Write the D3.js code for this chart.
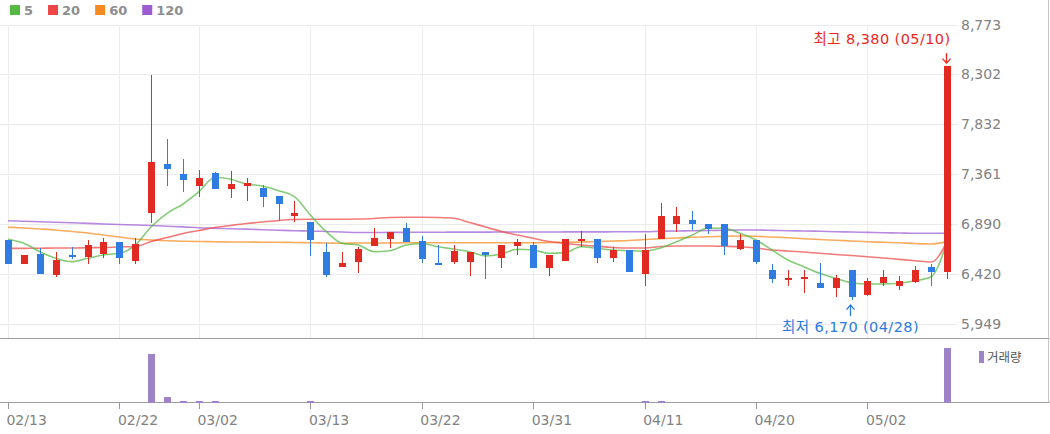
<!DOCTYPE html>
<html><head><meta charset="utf-8">
<script src="https://cdn.jsdelivr.net/npm/d3@7"></script>
<style>body{margin:0;background:#fff;} svg{display:block;}</style>
</head><body><svg id="c" width="1050" height="434"></svg>
<script>
const dates = ["02/13","02/14","02/15","02/16","02/17","02/20","02/21","02/22","02/23","02/24",
"02/27","02/28","03/02","03/03","03/06","03/07","03/08","03/09","03/10","03/13",
"03/14","03/15","03/16","03/17","03/20","03/21","03/22","03/23","03/24","03/27",
"03/28","03/29","03/30","03/31","04/03","04/04","04/05","04/06","04/07","04/10",
"04/11","04/12","04/13","04/14","04/17","04/18","04/19","04/20","04/21","04/24",
"04/25","04/26","04/27","04/28","05/02","05/03","05/04","05/08","05/09","05/10"];

const openP  = [6740,6510,6610,6410,6600,6580,6610,6720,6540,6990,7460,7360,7250,7370,7220,7250,7230,7150,6960,6910,
6620,6480,6530,6680,6750,6850,6730,6520,6530,6530,6620,6570,6680,6690,6470,6540,6740,6750,6570,6640,
6420,6750,6890,6930,6890,6890,6650,6740,6450,6370,6380,6330,6280,6450,6220,6330,6300,6340,6480,6440];
const highP  = [6740,6600,6660,6620,6670,6740,6760,6720,6760,8300,7690,7500,7400,7380,7390,7320,7260,7150,7110,6910,
6710,6620,6670,6850,6810,6900,6780,6690,6690,6620,6620,6690,6750,6720,6600,6750,6820,6750,6670,6640,
6790,7090,7050,7010,6890,6890,6790,6740,6510,6450,6450,6520,6410,6450,6380,6450,6400,6490,6510,8380];
const lowP   = [6510,6510,6420,6390,6560,6510,6570,6510,6510,6900,7250,7190,7140,7220,7130,7110,7050,6920,6910,6590,
6390,6480,6430,6680,6660,6720,6520,6500,6510,6400,6370,6470,6600,6470,6400,6540,6670,6520,6530,6440,
6300,6750,6810,6830,6790,6600,6640,6510,6330,6300,6240,6280,6200,6170,6210,6300,6270,6330,6300,6370];
const closeP = [6510,6600,6420,6550,6580,6690,6720,6570,6700,7470,7410,7300,7320,7220,7270,7280,7140,7080,6990,6740,
6410,6520,6650,6760,6810,6720,6560,6500,6630,6620,6600,6690,6720,6470,6600,6750,6750,6570,6640,6440,
6640,6960,6960,6890,6840,6680,6740,6530,6370,6380,6390,6280,6380,6200,6350,6390,6350,6450,6440,8380];
const volume = [32000,28000,35000,30000,26000,31000,29000,34000,41000,3420000,355000,140000,130000,130000,45000,38000,30000,27000,25000,120000,
36000,28000,24000,30000,26000,33000,29000,27000,25000,22000,24000,26000,28000,30000,23000,25000,27000,22000,21000,26000,
120000,130000,48000,35000,28000,30000,26000,27000,33000,24000,22000,25000,28000,40000,30000,22000,20000,26000,35000,3850000];

const ma5   = [6744,6706,6627,6565,6533,6565,6596,6612,6690,6863,6990,7078,7194,7330,7311,7266,7248,7203,7147,6974,
6816,6706,6690,6627,6636,6690,6705,6674,6652,6627,6587,6605,6650,6643,6612,6618,6674,6659,6643,6636,
6633,6662,6721,6785,6851,6848,6801,6738,6643,6549,6486,6423,6376,6334,6322,6322,6329,6353,6391,6722];
const ma20  = [6659,6659,6660,6662,6662,6665,6667,6672,6676,6724,6761,6799,6827,6856,6875,6893,6908,6922,6931,6933,
6933,6933,6936,6941,6950,6952,6952,6950,6943,6903,6860,6818,6785,6754,6723,6705,6690,6678,6667,6662,
6662,6676,6681,6681,6681,6678,6674,6662,6643,6634,6624,6612,6601,6591,6580,6568,6555,6542,6530,6722];
const ma60  = [6858,6851,6842,6832,6818,6804,6785,6766,6747,6738,6731,6726,6723,6721,6719,6719,6717,6716,6714,6712,
6709,6707,6709,6710,6710,6711,6711,6711,6712,6712,6712,6712,6712,6712,6714,6716,6719,6723,6728,6733,
6742,6750,6756,6763,6769,6773,6775,6773,6766,6759,6750,6742,6735,6728,6721,6716,6711,6704,6700,6722];
const ma120 = [6920,6915,6910,6905,6900,6895,6889,6884,6879,6874,6868,6862,6854,6849,6844,6840,6835,6830,6825,6823,
6818,6813,6808,6808,6810,6810,6811,6811,6812,6812,6812,6813,6813,6813,6813,6814,6814,6814,6815,6815,
6816,6820,6823,6825,6827,6830,6832,6832,6829,6825,6823,6820,6816,6813,6810,6806,6804,6801,6801,6804];

const maNames = ["5","20","60","120"];
const maColors = ["#55b943","#ee4646","#f68a20","#9d5bd2"];
const yTicks = [5949, 6419.67, 6890.33, 7361, 7831.67, 8302.33, 8773];
const xTickLabels = ["02/13","02/22","03/02","03/13","03/22","03/31","04/11","04/20","05/02"];
const volumeLabel = "거래량";

const svg = d3.select("#c");
const plotRight = 955;
const x = d3.scaleBand().domain(dates).range([0, plotRight]).padding(0);
const cx = d => x(d) + x.bandwidth() / 2;
const y = d3.scaleLinear().domain([5949, 8773]).range([323.5, 24.5]);
const yv = d3.scaleLinear().domain([0, d3.max(volume) * 1.17]).range([402.5, 339]);

const UP = "#e12b22", DOWN = "#2f7de2";
const FONT = "'DejaVu Sans', 'Noto Sans CJK KR', sans-serif";

svg.append("rect").attr("width", 1050).attr("height", 434).attr("fill", "#fff");

// grid
const grid = svg.append("g").attr("shape-rendering", "crispEdges");
grid.selectAll(".hg").data(yTicks).join("line")
  .attr("x1", 0).attr("x2", 958)
  .attr("y1", d => Math.round(y(d)) + 0.5).attr("y2", d => Math.round(y(d)) + 0.5)
  .attr("stroke", "#ebebeb");
grid.selectAll(".vg").data(xTickLabels).join("line")
  .attr("x1", d => Math.round(cx(d)) + 0.5).attr("x2", d => Math.round(cx(d)) + 0.5)
  .attr("y1", 24.5).attr("y2", 338)
  .attr("stroke", "#ededed");

// right axis labels
const fmt = d3.format(",.0f");
svg.append("g").selectAll("text").data(yTicks).join("text")
  .attr("x", 961).attr("y", d => y(d) + 5)
  .attr("font-family", FONT).attr("font-size", 14).attr("fill", "#828282")
  .text(d => fmt(d));

// panel borders
const b = svg.append("g").attr("shape-rendering", "crispEdges");
b.append("line").attr("x1", 0).attr("x2", 1050).attr("y1", 338.5).attr("y2", 338.5).attr("stroke", "#9c9c9c");
b.append("line").attr("x1", 0).attr("x2", 1050).attr("y1", 402.5).attr("y2", 402.5).attr("stroke", "#9c9c9c");
b.append("line").attr("x1", 1048.5).attr("x2", 1048.5).attr("y1", 0).attr("y2", 403).attr("stroke", "#c4c4c4");

// x axis ticks + labels
const xa = svg.append("g");
xa.selectAll("line").data(xTickLabels).join("line")
  .attr("shape-rendering", "crispEdges")
  .attr("x1", d => Math.round(cx(d)) + 0.5).attr("x2", d => Math.round(cx(d)) + 0.5)
  .attr("y1", 403).attr("y2", 409).attr("stroke", "#999");
xa.selectAll("text").data(xTickLabels).join("text")
  .attr("x", d => cx(d) - 1.5).attr("y", 425)
  .attr("font-family", FONT).attr("font-size", 14).attr("fill", "#828282")
  .text(d => d);

// moving averages
const maData = [ma5, ma20, ma60, ma120];
const lineGen = arr => d3.line().x((d, i) => cx(dates[i])).y(d => y(d)).curve(d3.curveMonotoneX)(arr);
const maG = svg.append("g");
[3, 2, 1, 0].forEach(k => {
  maG.append("path").attr("d", lineGen(maData[k]))
    .attr("fill", "none").attr("stroke", maColors[k])
    .attr("stroke-opacity", 0.72).attr("stroke-width", 1.6);
});

// candles
const candles = dates.map((d, i) => ({d, o: openP[i], h: highP[i], l: lowP[i], c: closeP[i], v: volume[i]}));
const cg = svg.append("g").attr("shape-rendering", "crispEdges");
const bw = 7;
cg.selectAll(".wick").data(candles).join("line")
  .attr("x1", d => Math.round(cx(d.d)) + 0.5).attr("x2", d => Math.round(cx(d.d)) + 0.5)
  .attr("y1", d => y(d.h)).attr("y2", d => y(d.l))
  .attr("stroke", d => d.c >= d.o ? UP : DOWN).attr("stroke-width", 1.4);
cg.selectAll(".body").data(candles).join("rect")
  .attr("x", d => Math.round(cx(d.d)) + 0.5 - bw / 2)
  .attr("width", bw)
  .attr("y", d => y(Math.max(d.o, d.c)))
  .attr("height", d => Math.max(2, Math.abs(y(d.o) - y(d.c))))
  .attr("fill", d => d.c >= d.o ? UP : DOWN);

// volume bars
svg.append("g").attr("shape-rendering", "crispEdges")
  .selectAll("rect").data(candles.filter(d => yv(0) - yv(d.v) >= 1)).join("rect")
  .attr("x", d => Math.round(cx(d.d)) + 0.5 - bw / 2)
  .attr("width", bw)
  .attr("y", d => yv(d.v))
  .attr("height", d => yv(0) - yv(d.v))
  .attr("fill", "#9c84c7");

// volume legend
svg.append("rect").attr("x", 979).attr("y", 351).attr("width", 5).attr("height", 12).attr("fill", "#9c84c7");
svg.append("text").attr("x", 987).attr("y", 362).attr("font-family", "'Noto Sans CJK KR', sans-serif")
  .attr("font-size", 12.5).attr("fill", "#555").text(volumeLabel);

// MA legend
const lg = svg.append("g");
let lx = 10;
maNames.forEach((n, k) => {
  lg.append("rect").attr("x", lx).attr("y", 5).attr("width", 10).attr("height", 10).attr("fill", maColors[k]);
  const t = lg.append("text").attr("x", lx + 14).attr("y", 15)
    .attr("font-family", FONT).attr("font-size", 13).attr("font-weight", "bold").attr("fill", "#8e8e8e").text(n);
  lx += 14 + t.node().getComputedTextLength() + 15;
});

// annotations
const iMax = d3.maxIndex(highP), iMin = d3.minIndex(lowP);
const ann = svg.append("g");
function arrow(xp, y1, y2, color, down) {
  ann.append("line").attr("x1", xp).attr("x2", xp).attr("y1", y1).attr("y2", y2)
    .attr("stroke", color).attr("stroke-width", 1.3);
  const tip = down ? y2 : y1, s = down ? -1 : 1;
  ann.append("path").attr("d", `M${xp - 4},${tip + s * 4.5}L${xp},${tip}L${xp + 4},${tip + s * 4.5}`)
    .attr("fill", "none").attr("stroke", color).attr("stroke-width", 1.3);
}
const hx = Math.round(cx(dates[iMax])) + 0.5, hy = y(highP[iMax]);
arrow(hx - 1, hy - 13, hy - 3, "#f0261e", true);
ann.append("text").attr("x", hx + 3).attr("y", hy - 22).attr("text-anchor", "end")
  .attr("font-family", FONT).attr("font-size", 14.5).attr("letter-spacing", 0.4).attr("fill", "#f0261e")
  .text(`최고 ${fmt(highP[iMax])} (${dates[iMax]})`);
const lxp = Math.round(cx(dates[iMin])) + 0.5, ly = y(lowP[iMin]);
arrow(lxp - 2, ly + 5, ly + 16, "#2a7ae0", false);
ann.append("text").attr("x", lxp - 2).attr("y", ly + 32).attr("text-anchor", "middle")
  .attr("font-family", FONT).attr("font-size", 14.5).attr("letter-spacing", 0.4).attr("fill", "#2a7ae0")
  .text(`최저 ${fmt(lowP[iMin])} (${dates[iMin]})`);
</script></body></html>
